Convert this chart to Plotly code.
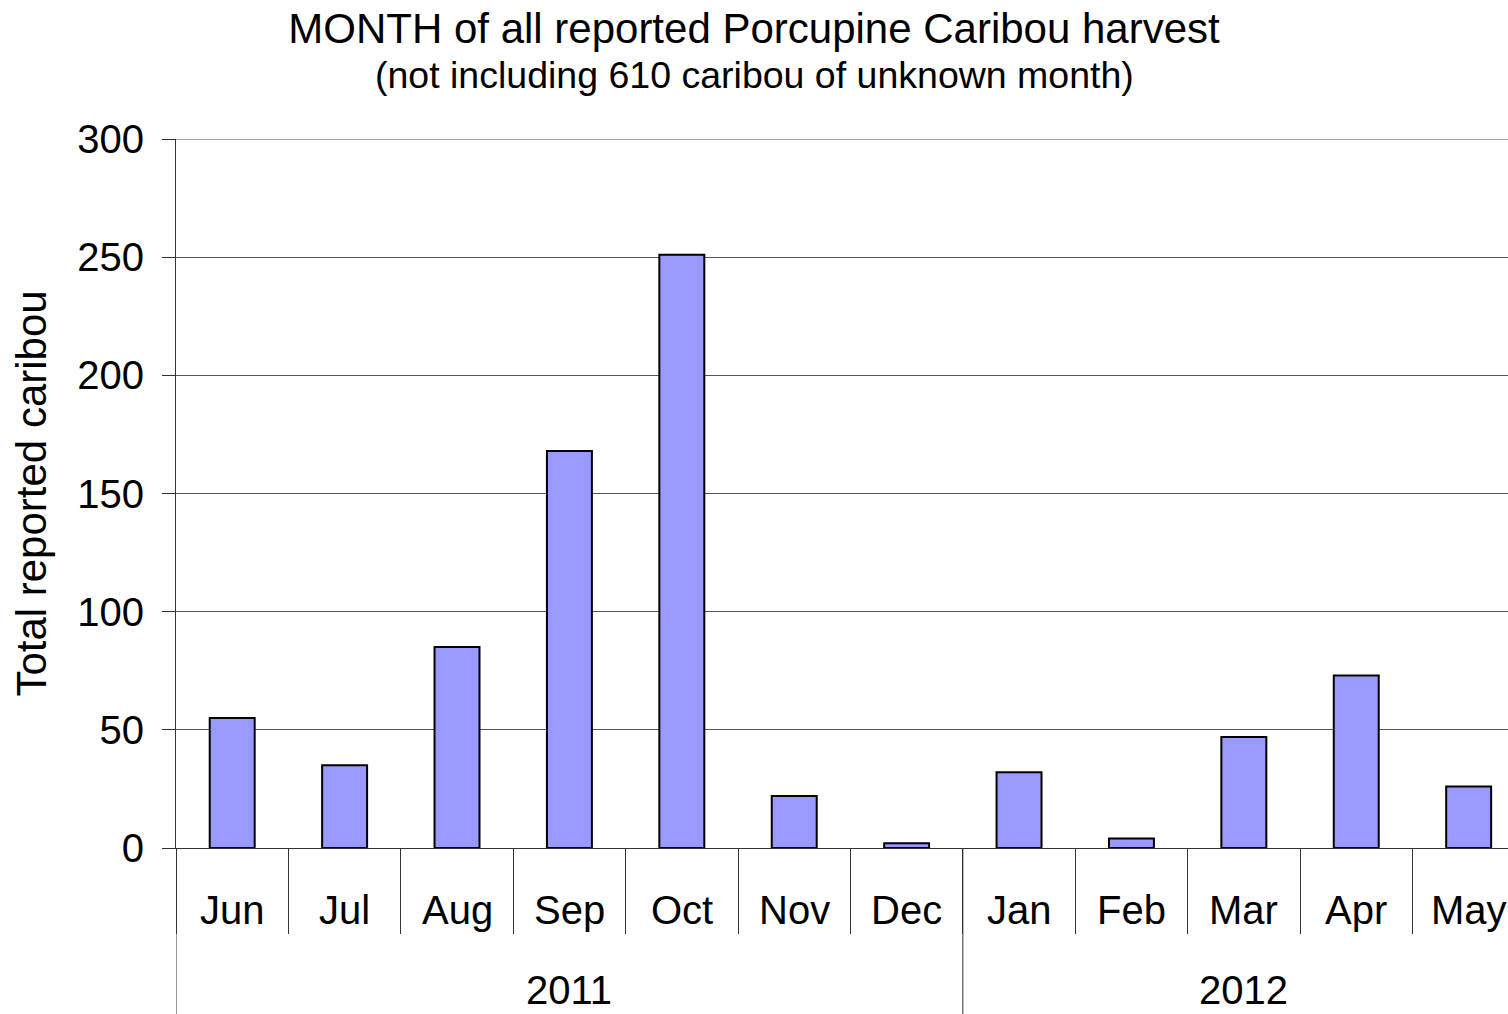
import plotly.graph_objects as go

months = ["Jun", "Jul", "Aug", "Sep", "Oct", "Nov", "Dec", "Jan", "Feb", "Mar", "Apr", "May"]
harvest = [55, 35, 85, 168, 251, 22, 2, 32, 4, 47, 73, 26]
years = ["2011", "2012"]
year_centers = [3, 9]          # category index at the centre of each year group
year_starts = [-0.5, 6.5]      # category boundary where each year group starts
y_max = 300

FONT = "Liberation Sans, Arial, sans-serif"
PLOT_TOP, PLOT_BOTTOM, PLOT_LEFT, PLOT_W = 139, 848, 176, 1332
PH = PLOT_BOTTOM - PLOT_TOP

def py(pix):  # page pixel row -> paper y
    return (PLOT_BOTTOM - pix) / PH

fig = go.Figure()
fig.add_trace(go.Bar(
    x=months, y=harvest, width=0.4,
    marker=dict(color="#9999FF", line=dict(color="#000000", width=2)),
    showlegend=False,
))

annotations = [
    dict(text="(not including 610 caribou of unknown month)", x=(754 - PLOT_LEFT) / PLOT_W, xref="paper",
         xanchor="center", y=py(75), yref="paper", yanchor="middle", showarrow=False,
         font=dict(family=FONT, size=37.5, color="black")),
]
for m in months:
    annotations.append(dict(text=m, x=m, xref="x", y=py(910), yref="paper",
                            yanchor="middle", showarrow=False,
                            font=dict(family=FONT, size=40, color="black")))
for yr, xc in zip(years, year_centers):
    annotations.append(dict(text=yr, x=xc, xref="x", y=py(990), yref="paper",
                            yanchor="middle", showarrow=False,
                            font=dict(family=FONT, size=40, color="black")))

shapes = []
for xs in year_starts:
    shapes.append(dict(type="line", xref="x", yref="paper", x0=xs, x1=xs,
                       y0=0, y1=py(1014), line=dict(color="#333333", width=1)))
# top gridline at the range maximum
shapes.append(dict(type="line", xref="paper", yref="y", x0=0, x1=1, y0=y_max, y1=y_max,
                   line=dict(color="#888888", width=1.5), layer="below"))

fig.update_layout(
    width=1508, height=1014,
    margin=dict(l=PLOT_LEFT, r=0, t=PLOT_TOP, b=1014 - PLOT_BOTTOM),
    paper_bgcolor="white", plot_bgcolor="white",
    font=dict(family=FONT, size=40, color="black"),
    title=dict(text="MONTH of all reported Porcupine Caribou harvest", x=0.5, xanchor="center",
               y=1 - 28 / 1014, yref="container", yanchor="middle",
               font=dict(family=FONT, size=42, color="black")),
    annotations=annotations,
    shapes=shapes,
    bargap=0.6,
)
fig.update_xaxes(
    type="category", categoryorder="array", categoryarray=months,
    range=[-0.5, 11.35], tickson="boundaries", ticks="outside", ticklen=85,
    tickcolor="#333333", tickwidth=1, showline=True, linecolor="#333333", linewidth=1,
    showgrid=False, showticklabels=False,
)
fig.update_yaxes(
    range=[0, y_max], dtick=50, ticks="outside", ticklen=13, tickcolor="#333333",
    showline=True, linecolor="#333333", linewidth=1,
    showgrid=True, gridcolor="#555555", gridwidth=1, zeroline=False,
    ticklabelstandoff=10, tickfont=dict(size=40),
    title=dict(text="Total reported caribou", font=dict(size=42), standoff=17),
)

fig.write_html("out.html", config={"displayModeBar": False},
               post_script="document.body.style.margin='0';")
